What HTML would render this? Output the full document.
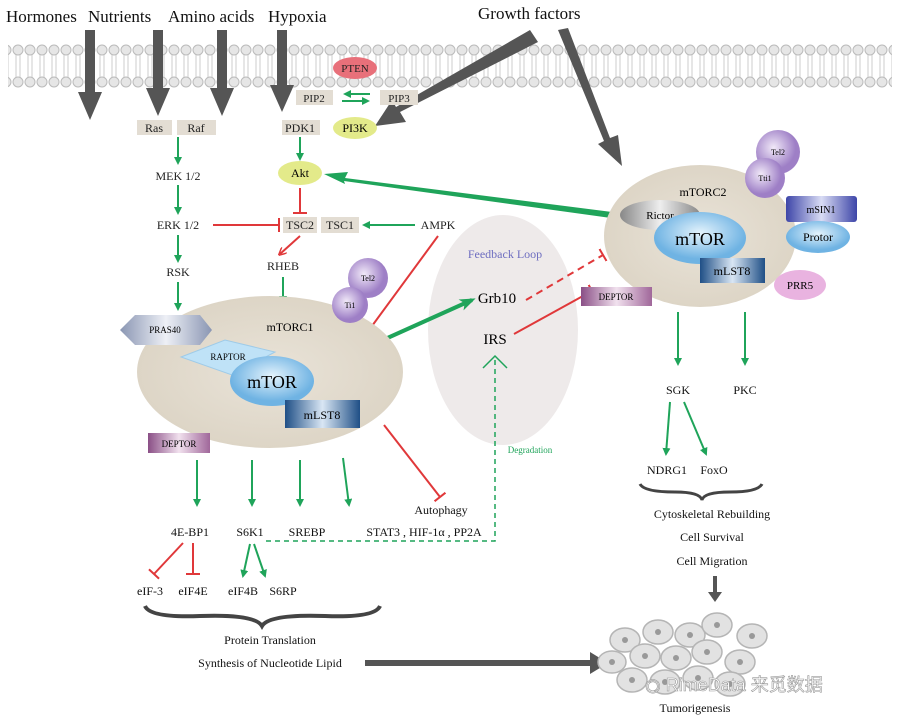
<!DOCTYPE html>
<html><head><meta charset="utf-8"><style>
html,body{margin:0;padding:0;background:#fff;}
svg{display:block;font-family:"Liberation Serif",serif;}
</style></head><body>
<svg width="898" height="720" viewBox="0 0 898 720" xmlns="http://www.w3.org/2000/svg">
<defs>
<marker id="g" markerWidth="8" markerHeight="8" refX="6" refY="4" orient="auto" markerUnits="userSpaceOnUse"><path d="M0,0 L8,4 L0,8 Z" fill="#1fa45a"/></marker>
<marker id="gb" markerWidth="16" markerHeight="12" refX="12" refY="6" orient="auto" markerUnits="userSpaceOnUse"><path d="M0,0 L16,6 L0,12 L4,6 Z" fill="#1fa45a"/></marker>
<marker id="r" markerWidth="8" markerHeight="8" refX="6" refY="4" orient="auto" markerUnits="userSpaceOnUse"><path d="M0,0 L8,4 L0,8" fill="none" stroke="#e0383a" stroke-width="1.5"/></marker>
<marker id="bar" markerWidth="4" markerHeight="14" refX="2" refY="7" orient="auto" markerUnits="userSpaceOnUse"><line x1="2" y1="0" x2="2" y2="14" stroke="#e0383a" stroke-width="2"/></marker>
<radialGradient id="tan"><stop offset="0" stop-color="#e9e3d8"/><stop offset="1" stop-color="#ddd5c6"/></radialGradient>
<radialGradient id="blue" cx="0.5" cy="0.4"><stop offset="0" stop-color="#e4f3fc"/><stop offset="1" stop-color="#6fb3e3"/></radialGradient>
<linearGradient id="navy" x1="0" x2="1"><stop offset="0" stop-color="#1f4f86"/><stop offset="0.5" stop-color="#d9e6f4"/><stop offset="1" stop-color="#1f4f86"/></linearGradient>
<linearGradient id="purp" x1="0" x2="1"><stop offset="0" stop-color="#8a4f86"/><stop offset="0.5" stop-color="#f1e1ee"/><stop offset="1" stop-color="#a0679a"/></linearGradient>
<radialGradient id="vio" cx="0.4" cy="0.4"><stop offset="0" stop-color="#f1e9f8"/><stop offset="1" stop-color="#9e7fc6"/></radialGradient>
<linearGradient id="gray" x1="0" x2="1"><stop offset="0" stop-color="#888"/><stop offset="0.5" stop-color="#eee"/><stop offset="1" stop-color="#888"/></linearGradient>
<linearGradient id="msin" x1="0" x2="1"><stop offset="0" stop-color="#3d45a8"/><stop offset="0.5" stop-color="#d9dcf4"/><stop offset="1" stop-color="#3d45a8"/></linearGradient>
<linearGradient id="pras" x1="0" x2="1"><stop offset="0" stop-color="#8a96b3"/><stop offset="0.5" stop-color="#eef0f6"/><stop offset="1" stop-color="#8a96b3"/></linearGradient>
<pattern id="mem" width="12" height="44" patternUnits="userSpaceOnUse">
<circle cx="6" cy="6" r="5" fill="#e6e6e6" stroke="#bbb" stroke-width="1"/>
<circle cx="6" cy="38" r="5" fill="#e6e6e6" stroke="#bbb" stroke-width="1"/>
<line x1="4" y1="11" x2="4" y2="33" stroke="#ccc"/><line x1="8" y1="11" x2="8" y2="33" stroke="#ccc"/>
</pattern>
</defs>

<rect x="8" y="44" width="884" height="44" fill="url(#mem)"/>

<g font-size="17" fill="#111">
<text x="6" y="22">Hormones</text><text x="88" y="22">Nutrients</text><text x="168" y="22">Amino acids</text><text x="268" y="22">Hypoxia</text>
<text x="478" y="19">Growth factors</text>
</g>

<g fill="#555">
<path d="M85,30 L95,30 L95,92 L102,92 L90,120 L78,92 L85,92 Z"/>
<path d="M153,30 L163,30 L163,88 L170,88 L158,116 L146,88 L153,88 Z"/>
<path d="M217,30 L227,30 L227,88 L234,88 L222,116 L210,88 L217,88 Z"/>
<path d="M277,30 L287,30 L287,85 L294,85 L282,112 L270,85 L277,85 Z"/>
<path d="M530,30 L538,42 L400,112 L406,122 L375,126 L392,100 L396,107 Z"/>
<path d="M558,30 L568,28 L610,138 L618,135 L622,166 L598,144 L604,141 Z"/>
<path d="M365,660 L590,660 L590,652 L608,663 L590,674 L590,666 L365,666 Z"/>
<path d="M713,576 L717,576 L717,592 L722,592 L715,602 L708,592 L713,592 Z"/>
</g>

<ellipse cx="355" cy="68" rx="22" ry="11" fill="#e8707a"/>
<g font-size="11" text-anchor="middle" fill="#222">
<text x="355" y="72">PTEN</text>
<rect x="296" y="90" width="37" height="15" fill="#e3ddd3"/><text x="314" y="102">PIP2</text>
<rect x="380" y="90" width="38" height="15" fill="#e3ddd3"/><text x="399" y="102">PIP3</text>
</g>
<ellipse cx="355" cy="128" rx="22" ry="11" fill="#e3ea8a"/>
<text x="355" y="132" font-size="12" text-anchor="middle">PI3K</text>
<line x1="370" y1="94" x2="345" y2="94" stroke="#1fa45a" stroke-width="2" marker-end="url(#g)"/>
<line x1="342" y1="101" x2="368" y2="101" stroke="#1fa45a" stroke-width="2" marker-end="url(#g)"/>

<g font-size="12" fill="#222" text-anchor="middle">
<rect x="137" y="120" width="35" height="15" fill="#e3ddd3"/><text x="154" y="132">Ras</text>
<rect x="177" y="120" width="39" height="15" fill="#e3ddd3"/><text x="196" y="132">Raf</text>
<rect x="282" y="120" width="38" height="15" fill="#e3ddd3"/><text x="300" y="132">PDK1</text>
<text x="178" y="180">MEK 1/2</text>
<text x="178" y="229">ERK 1/2</text>
<text x="178" y="276">RSK</text>
<rect x="283" y="217" width="34" height="16" fill="#e3ddd3"/><text x="300" y="229">TSC2</text>
<rect x="321" y="217" width="38" height="16" fill="#e3ddd3"/><text x="340" y="229">TSC1</text>
<text x="438" y="229">AMPK</text>
<text x="283" y="270">RHEB</text>
</g>
<ellipse cx="300" cy="173" rx="22" ry="12" fill="#e3ea8a"/>
<text x="300" y="177" font-size="12" text-anchor="middle">Akt</text>

<g stroke="#1fa45a" stroke-width="2" fill="none">
<line x1="178" y1="137" x2="178" y2="163" marker-end="url(#g)"/>
<line x1="178" y1="185" x2="178" y2="213" marker-end="url(#g)"/>
<line x1="178" y1="235" x2="178" y2="261" marker-end="url(#g)"/>
<line x1="178" y1="282" x2="178" y2="309" marker-end="url(#g)"/>
<line x1="300" y1="137" x2="300" y2="159" marker-end="url(#g)"/>
<line x1="415" y1="225" x2="364" y2="225" marker-end="url(#g)"/>
<line x1="283" y1="277" x2="283" y2="302" marker-end="url(#g)"/>
</g>
<g stroke="#e0383a" stroke-width="2" fill="none">
<line x1="213" y1="225" x2="279" y2="225" marker-end="url(#bar)"/>
<line x1="300" y1="188" x2="300" y2="213" marker-end="url(#bar)"/>
<line x1="300" y1="236" x2="280" y2="254" marker-end="url(#r)"/>
<line x1="438" y1="236" x2="372" y2="326" marker-end="url(#bar)"/>
<line x1="384" y1="425" x2="440" y2="497" marker-end="url(#bar)"/>
</g>

<path d="M612,212 L345,178 L348,172 L324,174 L345,184 L344,181 L611,218 Z" fill="#1fa45a"/>

<ellipse cx="503" cy="330" rx="75" ry="115" fill="#eeeaea"/>
<text x="505" y="258" font-size="12" fill="#6e6ec0" text-anchor="middle">Feedback Loop</text>
<text x="497" y="303" font-size="15" text-anchor="middle">Grb10</text>
<text x="495" y="344" font-size="15" text-anchor="middle">IRS</text>
<text x="530" y="453" font-size="9" fill="#1fa45a" text-anchor="middle">Degradation</text>
<line x1="383" y1="340" x2="472" y2="300" stroke="#1fa45a" stroke-width="4" marker-end="url(#gb)"/>
<line x1="526" y1="300" x2="603" y2="255" stroke="#e0383a" stroke-width="2" stroke-dasharray="7,5" marker-end="url(#bar)"/>
<line x1="514" y1="334" x2="592" y2="291" stroke="#e0383a" stroke-width="2" marker-end="url(#bar)"/>
<path d="M266,541 L495,541 L495,360" fill="none" stroke="#1fa45a" stroke-width="1.5" stroke-dasharray="5,4"/>
<path d="M483,368 L495,356 L507,368" fill="none" stroke="#1fa45a" stroke-width="1.5"/>

<ellipse cx="270" cy="372" rx="133" ry="76" fill="url(#tan)"/>
<path d="M120,330 L135,315 L200,315 L212,330 L200,345 L135,345 Z" fill="url(#pras)"/>
<text x="165" y="333" font-size="9" text-anchor="middle">PRAS40</text>
<circle cx="368" cy="278" r="20" fill="url(#vio)"/>
<circle cx="350" cy="305" r="18" fill="url(#vio)"/>
<text x="368" y="281" font-size="8" text-anchor="middle">Tel2</text>
<text x="350" y="308" font-size="8" text-anchor="middle">Ti1</text>
<text x="290" y="331" font-size="12" text-anchor="middle">mTORC1</text>
<path d="M181,357 L225,340 L275,352 L232,375 Z" fill="#bfe2f7" stroke="#9fcbe8"/>
<text x="228" y="360" font-size="9" text-anchor="middle">RAPTOR</text>
<ellipse cx="272" cy="381" rx="42" ry="25" fill="url(#blue)"/>
<text x="272" y="388" font-size="18" text-anchor="middle">mTOR</text>
<rect x="285" y="400" width="75" height="28" fill="url(#navy)"/>
<text x="322" y="419" font-size="12" text-anchor="middle">mLST8</text>
<rect x="148" y="433" width="62" height="20" fill="url(#purp)"/>
<text x="179" y="447" font-size="9" text-anchor="middle">DEPTOR</text>

<g stroke="#1fa45a" stroke-width="2">
<line x1="197" y1="460" x2="197" y2="505" marker-end="url(#g)"/>
<line x1="252" y1="460" x2="252" y2="505" marker-end="url(#g)"/>
<line x1="300" y1="460" x2="300" y2="505" marker-end="url(#g)"/>
<line x1="343" y1="458" x2="349" y2="505" marker-end="url(#g)"/>
<line x1="250" y1="544" x2="243" y2="576" marker-end="url(#g)"/>
<line x1="254" y1="544" x2="265" y2="576" marker-end="url(#g)"/>
</g>
<g stroke="#e0383a" stroke-width="2">
<line x1="183" y1="543" x2="154" y2="574" marker-end="url(#bar)"/>
<line x1="193" y1="543" x2="193" y2="574" marker-end="url(#bar)"/>
</g>
<g font-size="12" fill="#111" text-anchor="middle">
<text x="190" y="536">4E-BP1</text><text x="250" y="536">S6K1</text><text x="307" y="536">SREBP</text>
<text x="424" y="536">STAT3 , HIF-1α , PP2A</text>
<text x="441" y="514">Autophagy</text>
<text x="150" y="595">eIF-3</text><text x="193" y="595">eIF4E</text><text x="243" y="595">eIF4B</text><text x="283" y="595">S6RP</text>
<text x="270" y="644">Protein Translation</text>
<text x="270" y="667">Synthesis of Nucleotide Lipid</text>
</g>
<path d="M145,606 Q150,618 200,616 Q255,614 262,626 Q269,614 325,616 Q375,618 380,606" fill="none" stroke="#444" stroke-width="4"/>

<ellipse cx="700" cy="236" rx="96" ry="71" fill="url(#tan)"/>
<circle cx="778" cy="152" r="22" fill="url(#vio)"/>
<circle cx="765" cy="178" r="20" fill="url(#vio)"/>
<text x="778" y="155" font-size="8" text-anchor="middle">Tel2</text>
<text x="765" y="181" font-size="8" text-anchor="middle">Tti1</text>
<text x="703" y="196" font-size="12" text-anchor="middle">mTORC2</text>
<ellipse cx="660" cy="215" rx="40" ry="15" fill="url(#gray)"/>
<text x="660" y="219" font-size="11" text-anchor="middle">Rictor</text>
<ellipse cx="700" cy="238" rx="46" ry="26" fill="url(#blue)"/>
<text x="700" y="245" font-size="18" text-anchor="middle">mTOR</text>
<rect x="700" y="258" width="65" height="25" fill="url(#navy)"/>
<text x="732" y="275" font-size="12" text-anchor="middle">mLST8</text>
<rect x="786" y="196" width="71" height="26" rx="3" fill="url(#msin)"/>
<text x="821" y="213" font-size="10" text-anchor="middle">mSIN1</text>
<ellipse cx="818" cy="237" rx="32" ry="16" fill="url(#blue)"/>
<text x="818" y="241" font-size="12" text-anchor="middle">Protor</text>
<ellipse cx="800" cy="285" rx="26" ry="15" fill="#e9b3e0"/>
<text x="800" y="289" font-size="11" text-anchor="middle">PRR5</text>
<rect x="581" y="287" width="71" height="19" fill="url(#purp)"/>
<text x="616" y="300" font-size="9" text-anchor="middle">DEPTOR</text>

<g stroke="#1fa45a" stroke-width="2">
<line x1="678" y1="312" x2="678" y2="364" marker-end="url(#g)"/>
<line x1="745" y1="312" x2="745" y2="364" marker-end="url(#g)"/>
<line x1="670" y1="402" x2="666" y2="454" marker-end="url(#g)"/>
<line x1="684" y1="402" x2="706" y2="454" marker-end="url(#g)"/>
</g>
<g font-size="12" fill="#111" text-anchor="middle">
<text x="678" y="394">SGK</text><text x="745" y="394">PKC</text>
<text x="667" y="474">NDRG1</text><text x="714" y="474">FoxO</text>
<text x="712" y="518">Cytoskeletal Rebuilding</text>
<text x="712" y="541">Cell Survival</text>
<text x="712" y="565">Cell Migration</text>
<text x="695" y="712">Tumorigenesis</text>
</g>
<path d="M640,484 Q644,492 675,492 Q700,492 702,500 Q704,492 730,492 Q758,492 762,484" fill="none" stroke="#444" stroke-width="3"/>

<g fill="#e2e2e2" stroke="#b5b5b5" stroke-width="1.5">
<ellipse cx="625" cy="640" rx="15" ry="12"/><ellipse cx="658" cy="632" rx="15" ry="12"/><ellipse cx="690" cy="635" rx="15" ry="12"/>
<ellipse cx="717" cy="625" rx="15" ry="12"/><ellipse cx="752" cy="636" rx="15" ry="12"/><ellipse cx="612" cy="662" rx="14" ry="11"/>
<ellipse cx="645" cy="656" rx="15" ry="12"/><ellipse cx="676" cy="658" rx="15" ry="12"/><ellipse cx="707" cy="652" rx="15" ry="12"/>
<ellipse cx="740" cy="662" rx="15" ry="12"/><ellipse cx="632" cy="680" rx="15" ry="12"/><ellipse cx="665" cy="682" rx="15" ry="12"/>
<ellipse cx="698" cy="678" rx="15" ry="12"/><ellipse cx="730" cy="684" rx="15" ry="12"/>
</g>
<g fill="#999">
<circle cx="625" cy="640" r="3"/><circle cx="658" cy="632" r="3"/><circle cx="690" cy="635" r="3"/><circle cx="717" cy="625" r="3"/><circle cx="752" cy="636" r="3"/><circle cx="612" cy="662" r="3"/><circle cx="645" cy="656" r="3"/><circle cx="676" cy="658" r="3"/><circle cx="707" cy="652" r="3"/><circle cx="740" cy="662" r="3"/><circle cx="632" cy="680" r="3"/><circle cx="665" cy="682" r="3"/><circle cx="698" cy="678" r="3"/><circle cx="730" cy="684" r="3"/>
</g>
<text x="645" y="691" font-size="18" fill="#fff" stroke="#999" stroke-width="0.6" font-family="Liberation Sans, sans-serif">◉ RimeData <tspan font-family="Noto Sans CJK SC, sans-serif">来觅数据</tspan></text>
</svg>
</body></html>
